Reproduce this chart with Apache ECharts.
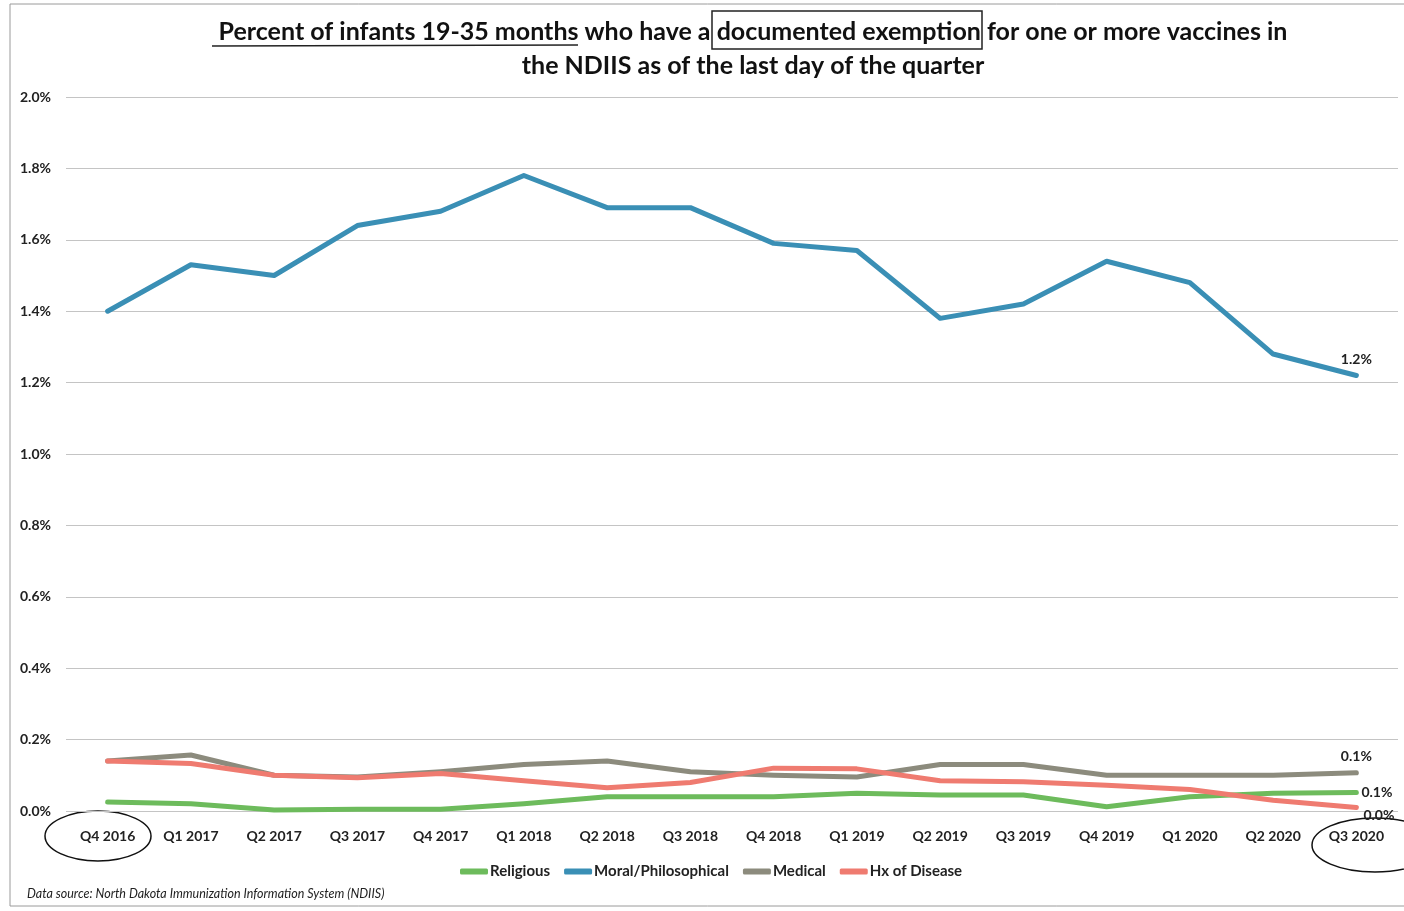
<!DOCTYPE html>
<html>
<head>
<meta charset="utf-8">
<script src="https://cdn.jsdelivr.net/npm/echarts@6/dist/echarts.min.js"></script>
<style>
html,body{margin:0;padding:0;background:#fff;}
#main{width:1404px;height:911px;}
</style>
</head>
<body>
<div id="main"></div>
<script>
var quarters = ['Q4 2016','Q1 2017','Q2 2017','Q3 2017','Q4 2017','Q1 2018','Q2 2018','Q3 2018',
	'Q4 2018','Q1 2019','Q2 2019','Q3 2019','Q4 2019','Q1 2020','Q2 2020','Q3 2020'];
var religious = [0.025,0.02,0.003,0.005,0.005,0.02,0.04,0.04,0.04,0.05,0.045,0.045,0.012,0.04,0.05,0.052];
var moral = [1.40,1.53,1.50,1.64,1.68,1.78,1.69,1.69,1.59,1.57,1.38,1.42,1.54,1.48,1.28,1.22];
var medical = [0.14,0.157,0.10,0.095,0.11,0.13,0.14,0.11,0.10,0.095,0.13,0.13,0.10,0.10,0.10,0.107];
var hxDisease = [0.14,0.133,0.10,0.093,0.105,0.085,0.065,0.08,0.12,0.118,0.085,0.082,0.072,0.06,0.03,0.01];

var fontF = 'Lato, "Open Sans", sans-serif',
	lwidth = 5, lblsize = 14;

// only the last point gets a value label
function withEndLabel(arr, pos, offs){
	return arr.map(function(v, i){
		if (i !== arr.length - 1) return v;
		return {value: v, label: {show: true, position: pos, offset: offs}};
	});
}

function mkSeries(name, arr, color, pos, offs){
	return {
		name: name,
		type: 'line',
		symbol: 'circle',
		symbolSize: 0,
		showSymbol: true,
		smooth: false,
		data: withEndLabel(arr, pos, offs),
		lineStyle: {width: lwidth, color: color, cap: 'round', join: 'round'},
		itemStyle: {color: color},
		label: {
			show: false,
			fontFamily: fontF,
			fontWeight: 'bold',
			fontSize: 14,
			color: '#222',
			formatter: function(p){ return p.value.toFixed(1) + '%'; }
		}
	};
}

var chart = echarts.init(document.getElementById('main'));
var option = {
	animation: false,
	backgroundColor: '#fff',
	title: {
		text: 'Percent of infants 19-35 months who have a documented exemption for one or more vaccines in\nthe NDIIS as of the last day of the quarter',
		left: 748,
		top: 10,
		textAlign: 'center',
		textStyle: {
			fontFamily: fontF,
			fontSize: 25,
			fontWeight: 'bold',
			color: '#111',
			lineHeight: 34
		}
	},
	grid: {left: 66, right: 6, top: 97, bottom: 100},
	legend: {
		data: ['Religious','Moral/Philosophical','Medical','Hx of Disease'],
		left: 455,
		top: 859,
		icon: 'roundRect',
		itemWidth: 28,
		itemHeight: 6,
		itemGap: 14,
		textStyle: {fontFamily: fontF, fontSize: 15, fontWeight: 'bold', color: '#222', padding: [0, 0, 0, -3]}
	},
	xAxis: {
		type: 'category',
		data: quarters,
		boundaryGap: true,
		axisLine: {show: false},
		axisTick: {show: false},
		axisLabel: {
			margin: 18,
			fontFamily: fontF,
			fontSize: lblsize,
			fontWeight: 'bold',
			color: '#222'
		}
	},
	yAxis: {
		type: 'value',
		min: 0,
		max: 2,
		interval: 0.2,
		axisLine: {show: false},
		axisTick: {show: false},
		splitLine: {lineStyle: {color: '#c4c4c4', width: 1}},
		axisLabel: {
			align: 'left',
			margin: 46,
			fontFamily: fontF,
			fontSize: lblsize,
			fontWeight: 'bold',
			color: '#222',
			formatter: function(v){ return v.toFixed(1) + '%'; }
		}
	},
	series: [
		mkSeries('Religious', religious, '#6dbb5c', 'right', [0, 0]),
		mkSeries('Moral/Philosophical', moral, '#3a8fb5', 'top', [0, -4]),
		mkSeries('Medical', medical, '#8c8b7d', 'top', [0, -4]),
		mkSeries('Hx of Disease', hxDisease, '#ef7b70', 'right', [2, 8])
	],
	graphic: [
		{type: 'rect', shape: {x: 10, y: 4, width: 1400, height: 902}, style: {fill: 'none', stroke: '#9a9a9a', lineWidth: 1}, silent: true},
		{type: 'text', left: 27, top: 887, style: {text: 'Data source: North Dakota Immunization Information System (NDIIS)', font: 'italic 12.5px ' + fontF, fill: '#222'}},
		// hand drawn marks on the scanned page
		{type: 'line', shape: {x1: 212, y1: 46, x2: 578, y2: 45}, style: {stroke: '#222', lineWidth: 1.5}},
		{type: 'rect', shape: {x: 712, y: 11, width: 270, height: 38}, style: {fill: 'none', stroke: '#222', lineWidth: 1.5}},
		{type: 'ellipse', shape: {cx: 98, cy: 836, rx: 53, ry: 25}, style: {fill: 'none', stroke: '#111', lineWidth: 1.5}},
		{type: 'ellipse', shape: {cx: 1375, cy: 845, rx: 63, ry: 27}, style: {fill: 'none', stroke: '#111', lineWidth: 1.5}}
	]
};
chart.setOption(option);
</script>
</body>
</html>
